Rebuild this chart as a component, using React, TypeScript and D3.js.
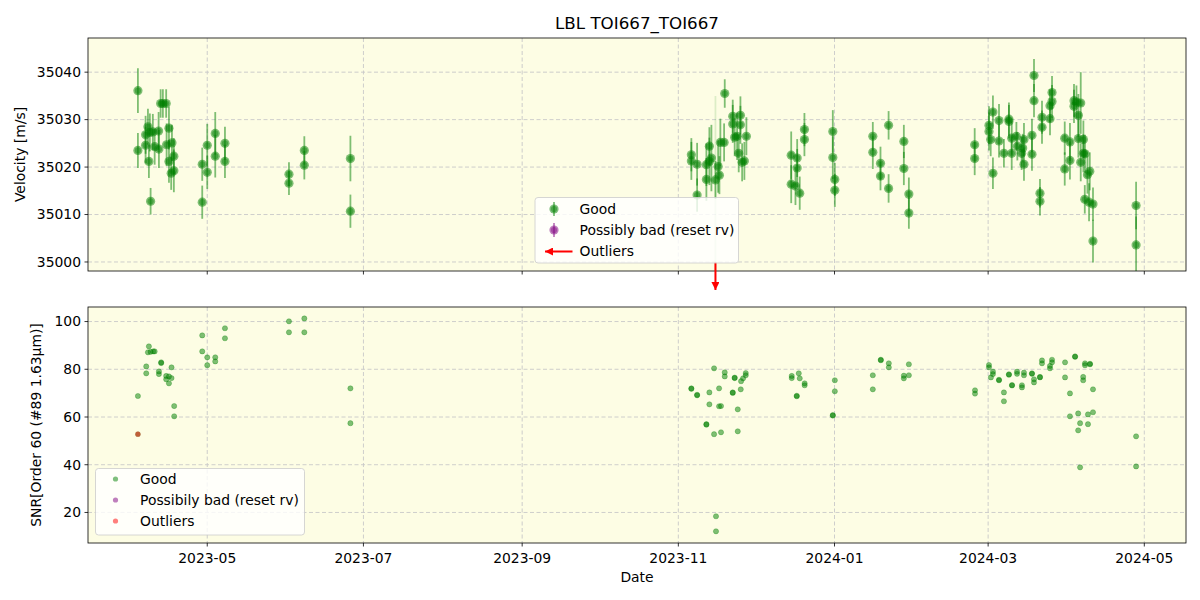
import React from 'react';
import * as d3 from 'd3';

// ---------- data ----------
const rvDates = [
  "2023-04-03T22","2023-04-03T22","2023-04-06T22","2023-04-06T22","2023-04-07T20","2023-04-08T05","2023-04-08T21","2023-04-08T14",
  "2023-04-09T18","2023-04-10T11","2023-04-12T00","2023-04-12T03","2023-04-12T19","2023-04-13T16","2023-04-14T23","2023-04-16T01",
  "2023-04-15T03","2023-04-16T01","2023-04-17T05","2023-04-17T23","2023-04-16T22","2023-04-17T23",
  "2023-04-29T01","2023-04-29T01","2023-05-01T00","2023-05-01T00","2023-05-04T03","2023-05-04T03","2023-05-07T22","2023-05-07T22",
  "2023-06-01T22","2023-06-01T22","2023-06-07T22","2023-06-07T22","2023-06-25T22","2023-06-25T22",
  "2023-11-06T02","2023-11-06T02","2023-11-08T08","2023-11-08T08","2023-11-11T23","2023-11-11T23","2023-11-13T03","2023-11-13T03",
  "2023-11-13T22","2023-11-15T12","2023-11-16T13","2023-11-17T01","2023-11-17T10","2023-11-18T21","2023-11-19T03",
  "2023-11-22T06","2023-11-22T06","2023-11-23T00","2023-11-23T23","2023-11-24T14","2023-11-25T06","2023-11-25T06","2023-11-25T22",
  "2023-11-26T19","2023-11-27T14",
  "2023-12-15T02","2023-12-15T02","2023-12-16T18","2023-12-17T10","2023-12-17T10","2023-12-18T10","2023-12-20T06","2023-12-20T06",
  "2023-12-31T08","2023-12-31T08","2024-01-01T03","2024-01-01T03","2024-01-15T23","2024-01-15T23","2024-01-18T23","2024-01-18T23",
  "2024-01-22T03","2024-01-22T03","2024-01-28T02","2024-01-28T02","2024-01-30T01","2024-01-30T01",
  "2024-02-24T18","2024-02-24T18","2024-03-01T08","2024-03-01T08","2024-03-02T00","2024-03-02T21","2024-03-02T21","2024-03-05T06","2024-03-05T06",
  "2024-03-07T04","2024-03-09T03","2024-03-09T03","2024-03-10T05","2024-03-10T05","2024-03-12T01","2024-03-12T10","2024-03-14T02","2024-03-14T12",
  "2024-03-15T00","2024-03-15T00","2024-03-18T03","2024-03-18T03","2024-03-18T22","2024-03-18T22","2024-03-21T06","2024-03-21T06",
  "2024-03-22T01","2024-03-22T01","2024-03-25T04","2024-03-25T04","2024-03-25T23","2024-03-25T23","2024-03-30T22","2024-03-30T22",
  "2024-04-01T23","2024-04-01T23","2024-04-03T13","2024-04-03T13","2024-04-04T12","2024-04-05T06","2024-04-05T06","2024-04-06T04","2024-04-06T04",
  "2024-04-07T05","2024-04-07T05","2024-04-07T20","2024-04-07T18","2024-04-08T19","2024-04-09T10","2024-04-09T17","2024-04-10T23","2024-04-10T23",
  "2024-04-27T19","2024-04-27T19",
];
const rvValues = [
  35036.1,35023.5,35026.8,35024.6,35028.5,35021.2,35012.8,35027.3,
  35027.4,35024.3,35027.6,35023.8,35033.4,35033.4,35033.4,35028.2,
  35024.7,35021.2,35025.1,35022.3,35018.7,35019.2,
  35020.6,35012.6,35024.6,35018.9,35027.1,35022.3,35025.0,35021.2,
  35018.5,35016.6,35023.5,35020.4,35021.8,35010.7,
  35022.6,35021.3,35020.6,35014.1,35020.5,35017.4,35024.4,35021.2,
  35021.9,35017.3,35020.1,35018.3,35025.2,35025.2,35035.5,
  35030.7,35029.1,35026.3,35026.5,35022.9,35030.9,35028.9,35021.0,
  35021.3,35026.5,
  35022.5,35016.4,35016.0,35021.9,35019.8,35014.5,35027.9,35025.8,
  35027.5,35022.0,35017.4,35015.1,35026.5,35023.1,35020.8,35018.1,
  35028.8,35015.5,35025.4,35019.7,35014.3,35010.3,
  35024.7,35021.8,35028.8,35027.5,35025.8,35031.6,35018.7,35029.8,35025.5,
  35022.9,35030.1,35029.6,35026.1,35022.9,35026.5,35024.4,35022.9,35024.0,
  35025.8,35020.6,35026.7,35022.7,35039.3,35034.0,35014.5,35012.8,
  35030.5,35028.4,35032.9,35030.2,35035.7,35033.8,35026.1,35019.6,
  35025.3,35021.4,35034.0,35032.8,35033.7,35030.9,35026.0,35033.5,35021.0,
  35025.8,35022.9,35022.8,35013.2,35018.4,35012.6,35019.1,35012.2,35004.4,
  35011.9,35003.6,
];
const rvErrors = [
  4.7,3.7,4.0,3.8,3.8,3.5,2.8,4.0,
  3.8,3.8,4.0,4.0,3.0,3.0,3.0,4.5,
  4.5,4.5,3.8,3.8,3.5,4.5,
  3.5,3.5,4.5,3.5,4.5,4.5,3.5,3.5,
  2.5,2.5,3.0,3.0,4.8,3.5,
  3.5,4.0,4.5,3.5,4.5,4.5,4.0,5.0,
  7.0,4.0,5.5,4.0,5.0,4.0,3.0,
  3.5,4.0,4.0,5.0,4.0,4.0,4.0,4.0,
  4.0,4.0,
  5.0,4.0,4.0,4.0,4.0,3.5,3.5,3.5,
  4.5,4.5,3.5,3.5,3.0,3.5,3.5,3.0,
  3.0,3.0,3.5,3.5,3.5,3.3,
  3.5,3.5,4.0,4.0,3.5,3.5,3.3,3.5,3.5,
  3.0,3.5,3.5,3.5,3.5,3.0,3.0,3.5,3.0,
  3.5,3.5,3.5,3.5,3.5,3.5,3.0,3.0,
  3.5,3.5,3.5,3.5,3.5,3.5,3.5,3.5,
  4.0,4.0,3.5,3.5,3.5,4.5,4.0,6.5,4.0,
  4.0,4.0,4.0,3.0,4.0,4.0,4.0,3.5,4.5,
  5.0,6.0,
];

// outlier (below the velocity axis range)
const outlierDates = ["2023-11-15T12"];
const outlierValues = [34960];
const outlierErrors = [75];

const snrDates = [
  "2023-04-03T22","2023-04-07T04","2023-04-07T04","2023-04-08T05","2023-04-07T20","2023-04-08T21","2023-04-09T21","2023-04-10T11",
  "2023-04-12T03","2023-04-12T03","2023-04-13T00","2023-04-13T00","2023-04-14T23","2023-04-14T23","2023-04-16T01","2023-04-17T01",
  "2023-04-16T01","2023-04-17T01","2023-04-18T02","2023-04-18T02",
  "2023-04-29T01","2023-04-29T01","2023-05-01T00","2023-05-01T00","2023-05-04T03","2023-05-04T03","2023-05-07T22","2023-05-07T22",
  "2023-06-01T22","2023-06-01T22","2023-06-07T22","2023-06-07T22","2023-06-25T22","2023-06-25T22",
  "2023-11-06T02","2023-11-06T02","2023-11-08T08","2023-11-08T08","2023-11-11T23","2023-11-11T23","2023-11-13T03","2023-11-13T03",
  "2023-11-14T23","2023-11-14T23","2023-11-15T17","2023-11-15T17","2023-11-16T22","2023-11-16T22","2023-11-17T16","2023-11-17T16",
  "2023-11-19T03","2023-11-19T03","2023-11-22T06","2023-11-22T06","2023-11-23T00","2023-11-23T00","2023-11-24T05","2023-11-24T05",
  "2023-11-25T09","2023-11-25T12","2023-11-26T07","2023-11-27T08","2023-11-27T08",
  "2023-12-15T07","2023-12-15T07","2023-12-17T06","2023-12-17T06","2023-12-18T01","2023-12-18T10","2023-12-20T08","2023-12-20T08",
  "2023-12-31T08","2023-12-31T08","2024-01-01T03","2024-01-01T03","2024-01-15T23","2024-01-15T23","2024-01-19T02","2024-01-19T02",
  "2024-01-22T05","2024-01-22T05","2024-01-28T02","2024-01-28T02","2024-01-30T01","2024-01-30T01",
  "2024-02-24T21","2024-02-24T21","2024-03-01T08","2024-03-01T08","2024-03-02T02","2024-03-02T21","2024-03-02T21","2024-03-05T06","2024-03-05T06",
  "2024-03-07T04","2024-03-07T04","2024-03-09T03","2024-03-09T03","2024-03-10T08","2024-03-10T08","2024-03-12T07","2024-03-12T07",
  "2024-03-14T05","2024-03-14T05","2024-03-15T00","2024-03-15T00","2024-03-18T03","2024-03-18T03","2024-03-18T22","2024-03-18T22",
  "2024-03-21T06","2024-03-21T06","2024-03-22T01","2024-03-22T01","2024-03-25T04","2024-03-25T04","2024-03-25T23","2024-03-25T23",
  "2024-03-31T01","2024-03-31T01","2024-04-01T23","2024-04-01T23","2024-04-03T23","2024-04-03T23","2024-04-05T04","2024-04-05T04",
  "2024-04-05T22","2024-04-05T22","2024-04-07T03","2024-04-07T03","2024-04-07T20","2024-04-07T20","2024-04-09T00","2024-04-09T00",
  "2024-04-09T19","2024-04-09T19","2024-04-10T23","2024-04-10T23","2024-04-27T19","2024-04-27T19",
];
const snrValues = [
  68.8,81.2,78.3,89.6,87.1,87.3,87.5,87.5,
  79.1,78.0,82.9,82.6,77.2,75.8,77.0,76.3,
  74.1,80.8,64.6,60.3,
  94.2,87.5,85.0,81.7,85.0,83.3,97.2,93.0,
  100.1,95.5,101.3,95.5,72.0,57.4,
  72.0,71.8,69.3,69.1,57.0,56.8,70.3,65.3,
  80.4,52.8,18.4,12.1,72.0,64.5,64.6,53.6,
  78.7,77.0,70.3,70.1,76.5,76.3,63.2,54.0,
  71.6,75.0,76.2,78.4,77.5,
  77.2,76.3,68.9,68.7,78.3,76.2,74.1,73.3,
  60.8,60.6,75.4,70.8,77.5,71.6,84.0,83.8,
  82.5,80.8,77.3,76.2,82.1,77.5,
  71.2,69.8,81.8,80.8,76.6,79.0,78.0,75.6,75.4,
  70.3,66.6,77.9,77.7,73.4,73.2,79.0,78.1,
  73.3,72.4,78.6,77.5,78.3,78.1,75.8,74.5,
  76.8,76.6,83.7,82.5,81.4,80.4,84.0,82.9,
  82.9,76.6,69.9,60.3,85.4,85.2,61.5,54.4,
  57.4,38.9,76.8,75.4,82.5,81.7,61.1,57.0,
  82.3,82.1,62.0,71.6,51.9,39.3,
];
const snrOutlierDates = ["2023-04-03T22"];
const snrOutlierValues = [52.8];

const xTickDates = ["2023-05-01T00","2023-07-01T00","2023-09-01T00","2023-11-01T00","2024-01-01T00","2024-03-01T00","2024-05-01T00"];
const rvDomain = [34998.1, 35047.2];
const rvTicks = [35000, 35010, 35020, 35030, 35040];
const snrDomain = [7.2, 106.1];
const snrTicks = [20, 40, 60, 80, 100];

const titleText = "LBL TOI667_TOI667";
const legendLabels = ["Good", "Possibly bad (reset rv)", "Outliers"];

// ---------- drawing ----------
const parse = d3.utcParse("%Y-%m-%dT%H");
const FONT = "DejaVu Sans, sans-serif";
const GREEN = "#008000";
const PURPLE = "#800080";
const RED = "#ff0000";
const BG = "#fdfde4";
const GRID = "#c8c8c8";

export default function App() {
  const W = 1200, H = 600;
  const left = 88, right = 1186;
  const t0 = 38, t1 = 271, b0 = 307, b1 = 543;

  const dates = rvDates.map((s) => parse(s) as Date);
  const ext = d3.extent(dates) as [Date, Date];
  const pad = (+ext[1] - +ext[0]) * 0.05;
  const x = d3.scaleUtc().domain([new Date(+ext[0] - pad), new Date(+ext[1] + pad)]).range([left, right]);
  const yTop = d3.scaleLinear().domain(rvDomain).range([t1, t0]);
  const yBot = d3.scaleLinear().domain(snrDomain).range([b1, b0]);
  const fmt = d3.utcFormat("%Y-%m");
  const xt = xTickDates.map((s) => parse(s) as Date);

  const grid = (y0: number, y1: number, yScale: any, ticks: number[]) => (
    <g>
      {xt.map((d, i) => (
        <line key={"gx" + i} x1={x(d)} x2={x(d)} y1={y0} y2={y1} stroke={GRID} strokeWidth={0.9} strokeDasharray="4,2.5" />
      ))}
      {ticks.map((v, i) => (
        <line key={"gy" + i} x1={left} x2={right} y1={yScale(v)} y2={yScale(v)} stroke={GRID} strokeWidth={0.9} strokeDasharray="4,2.5" />
      ))}
    </g>
  );

  const yAxis = (yScale: any, ticks: number[]) => (
    <g>
      {ticks.map((v, i) => (
        <g key={i}>
          <line x1={left - 3.5} x2={left} y1={yScale(v)} y2={yScale(v)} stroke="#000" strokeWidth={0.8} />
          <text x={left - 7} y={yScale(v)} dy="0.35em" textAnchor="end" fontSize={13.9} fontFamily={FONT} fill="#000">{v}</text>
        </g>
      ))}
    </g>
  );

  const xTicks = (yb: number, labels: boolean) => (
    <g>
      {xt.map((d, i) => (
        <g key={i}>
          <line x1={x(d)} x2={x(d)} y1={yb} y2={yb + 3.5} stroke="#000" strokeWidth={0.8} />
          {labels && (
            <text x={x(d)} y={yb + 19.5} textAnchor="middle" fontSize={13.9} fontFamily={FONT} fill="#000">{fmt(d)}</text>
          )}
        </g>
      ))}
    </g>
  );

  const outX = x(parse(outlierDates[0]) as Date);

  return (
    <svg width={W} height={H} style={{ position: "absolute", left: 0, top: 0, background: "#fff" }} xmlns="http://www.w3.org/2000/svg">
      <defs>
        <clipPath id="clipTop"><rect x={left} y={t0} width={right - left} height={t1 - t0} /></clipPath>
        <clipPath id="clipBot"><rect x={left} y={b0} width={right - left} height={b1 - b0} /></clipPath>
        <marker id="arrowHead" viewBox="0 0 10 10" refX="10" refY="5" markerWidth="4" markerHeight="4" orient="auto-start-reverse" markerUnits="strokeWidth">
          <path d="M0,0 L10,5 L0,10 z" fill={RED} />
        </marker>
      </defs>
      <rect width={W} height={H} fill="#fff" />
      <text x={(left + right) / 2} y={29} textAnchor="middle" fontSize={16.7} fontFamily={FONT} fill="#000">{titleText}</text>

      {/* ---------- top panel ---------- */}
      <rect x={left} y={t0} width={right - left} height={t1 - t0} fill={BG} />
      {grid(t0, t1, yTop, rvTicks)}
      <g clipPath="url(#clipTop)">
        {outlierDates.map((s, i) => {
          const d = parse(s) as Date;
          return <line key={"o" + i} x1={x(d)} x2={x(d)} y1={yTop(outlierValues[i] + outlierErrors[i])} y2={yTop(outlierValues[i] - outlierErrors[i])} stroke={GREEN} strokeOpacity={0.13} strokeWidth={1.8} />;
        })}
        {rvDates.map((s, i) => {
          const d = parse(s) as Date;
          return <line key={"e" + i} x1={x(d)} x2={x(d)} y1={yTop(rvValues[i] + rvErrors[i])} y2={yTop(rvValues[i] - rvErrors[i])} stroke={GREEN} strokeOpacity={0.5} strokeWidth={1.8} />;
        })}
        {rvDates.map((s, i) => {
          const d = parse(s) as Date;
          return (
            <g key={"p" + i}>
              <circle cx={x(d)} cy={yTop(rvValues[i])} r={4.6} fill={GREEN} fillOpacity={0.5} />
              <circle cx={x(d)} cy={yTop(rvValues[i])} r={3.1} fill={GREEN} fillOpacity={0.4} />
            </g>
          );
        })}
      </g>
      <rect x={left} y={t0} width={right - left} height={t1 - t0} fill="none" stroke="#000" strokeWidth={0.8} />
      {yAxis(yTop, rvTicks)}
      {xTicks(t1, false)}
      <text transform={`translate(20,${(t0 + t1) / 2}) rotate(-90)`} textAnchor="middle" dy="0.35em" fontSize={13.9} fontFamily={FONT} fill="#000">Velocity [m/s]</text>

      {/* outlier arrow */}
      <line x1={outX} x2={outX} y1={t1 - 9} y2={t1 + 19} stroke={RED} strokeWidth={2} markerEnd="url(#arrowHead)" />

      {/* top legend */}
      <g>
        <rect x={535} y={197.5} width={203.5} height={65.5} rx={3} fill="#fff" fillOpacity={0.8} stroke="#cccccc" strokeWidth={0.8} />
        <line x1={554} x2={554} y1={202} y2={216} stroke={GREEN} strokeOpacity={0.5} strokeWidth={1.8} />
        <circle cx={554} cy={209} r={4.6} fill={GREEN} fillOpacity={0.5} />
        <circle cx={554} cy={209} r={3.1} fill={GREEN} fillOpacity={0.4} />
        <line x1={554} x2={554} y1={223} y2={237} stroke={PURPLE} strokeOpacity={0.5} strokeWidth={1.8} />
        <circle cx={554} cy={230} r={4.6} fill={PURPLE} fillOpacity={0.5} />
        <circle cx={554} cy={230} r={3.1} fill={PURPLE} fillOpacity={0.4} />
        <line x1={572.5} x2={545} y1={251.5} y2={251.5} stroke={RED} strokeWidth={2} markerEnd="url(#arrowHead)" />
        {legendLabels.map((t, i) => (
          <text key={i} x={579.5} y={209 + i * 21} dy="0.35em" fontSize={13.9} fontFamily={FONT} fill="#000">{t}</text>
        ))}
      </g>

      {/* ---------- bottom panel ---------- */}
      <rect x={left} y={b0} width={right - left} height={b1 - b0} fill={BG} />
      {grid(b0, b1, yBot, snrTicks)}
      <g clipPath="url(#clipBot)">
        {snrDates.map((s, i) => {
          const d = parse(s) as Date;
          return <circle key={"s" + i} cx={x(d)} cy={yBot(snrValues[i])} r={2.6} fill={GREEN} fillOpacity={0.5} stroke={GREEN} strokeOpacity={0.35} strokeWidth={0.8} />;
        })}
        {snrOutlierDates.map((s, i) => {
          const d = parse(s) as Date;
          return (
            <g key={"so" + i}>
              <circle cx={x(d)} cy={yBot(snrOutlierValues[i])} r={2.6} fill={GREEN} fillOpacity={0.5} />
              <circle cx={x(d)} cy={yBot(snrOutlierValues[i])} r={2.6} fill={RED} fillOpacity={0.5} />
            </g>
          );
        })}
      </g>
      <rect x={left} y={b0} width={right - left} height={b1 - b0} fill="none" stroke="#000" strokeWidth={0.8} />
      {yAxis(yBot, snrTicks)}
      {xTicks(b1, true)}
      <text transform={`translate(36,${(b0 + b1) / 2}) rotate(-90)`} textAnchor="middle" dy="0.35em" fontSize={13.9} fontFamily={FONT} fill="#000">SNR[Order 60 (#89 1.63μm)]</text>
      <text x={(left + right) / 2} y={582} textAnchor="middle" fontSize={13.9} fontFamily={FONT} fill="#000">Date</text>

      {/* bottom legend */}
      <g>
        <rect x={95.5} y={468.5} width={209} height={66.5} rx={3} fill="#fff" fillOpacity={0.8} stroke="#cccccc" strokeWidth={0.8} />
        <circle cx={115.5} cy={479} r={2.6} fill={GREEN} fillOpacity={0.5} />
        <circle cx={115.5} cy={500} r={2.6} fill={PURPLE} fillOpacity={0.5} />
        <circle cx={115.5} cy={521} r={2.6} fill={RED} fillOpacity={0.5} />
        {legendLabels.map((t, i) => (
          <text key={i} x={140} y={479 + i * 21} dy="0.35em" fontSize={13.9} fontFamily={FONT} fill="#000">{t === "Possibly bad (reset rv)" ? "Possibily bad (reset rv)" : t}</text>
        ))}
      </g>
    </svg>
  );
}
